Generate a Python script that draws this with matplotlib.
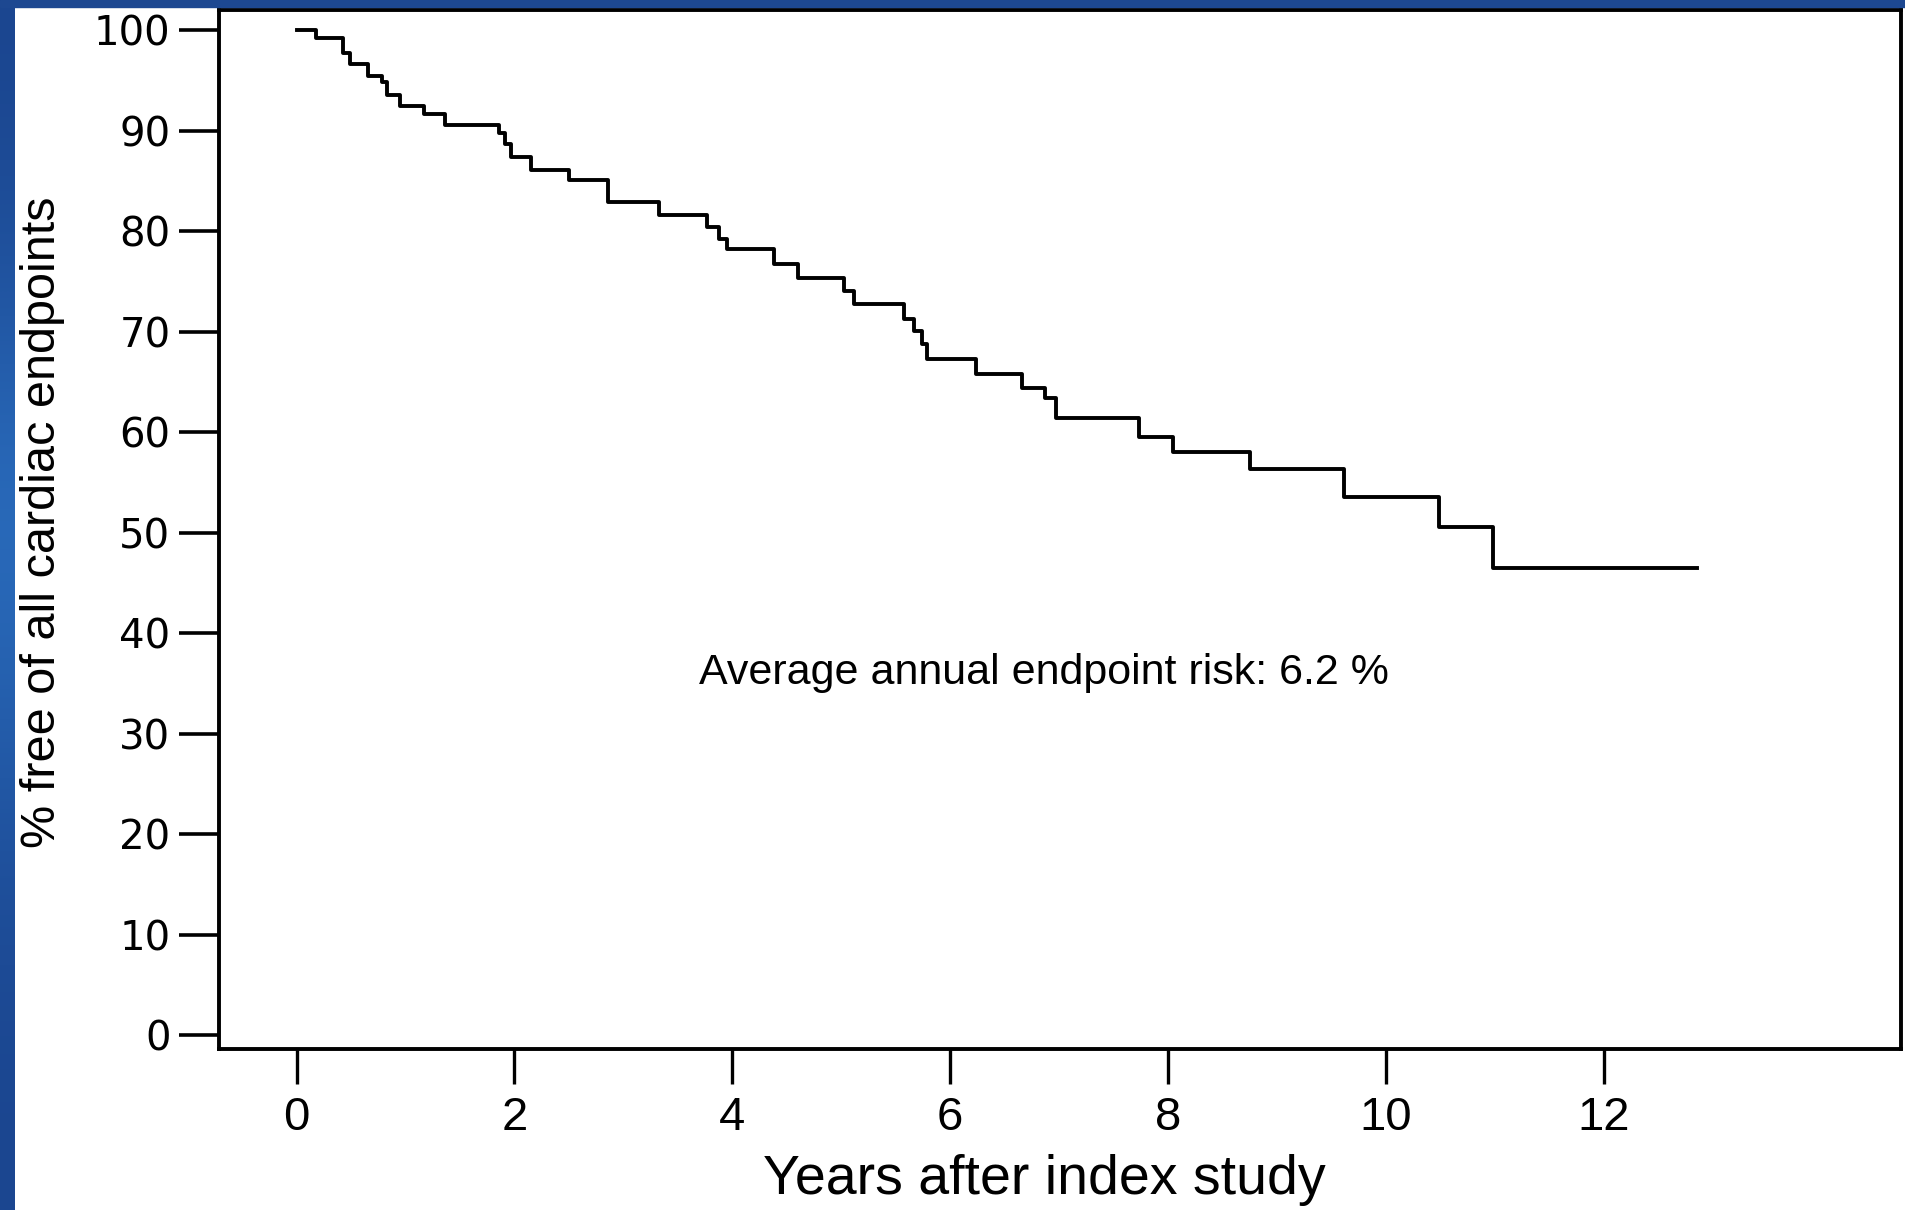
import numpy as np
import matplotlib
matplotlib.use("Agg")
import matplotlib.pyplot as plt
from matplotlib.patches import Rectangle

# Kaplan-Meier style step curve
event_years = [0, 0.18, 0.43, 0.49, 0.66, 0.78, 0.83, 0.95, 1.17, 1.36, 1.86, 1.91,
               1.97, 2.15, 2.50, 2.86, 3.33, 3.77, 3.88, 3.95, 4.38, 4.60, 5.03, 5.12,
               5.58, 5.67, 5.74, 5.79, 6.24, 6.66, 6.87, 6.97, 7.73, 8.05, 8.75, 9.62,
               10.49, 10.98]
pct_free = [100, 99.2, 97.7, 96.6, 95.4, 94.8, 93.5, 92.4, 91.7, 90.6, 89.8, 88.7,
            87.4, 86.1, 85.1, 82.9, 81.6, 80.4, 79.2, 78.2, 76.7, 75.3, 74.0, 72.7,
            71.3, 70.1, 68.8, 67.3, 65.8, 64.4, 63.4, 61.4, 59.5, 58.0, 56.3, 53.5,
            50.6, 46.5]
last_followup = 12.86

x_ticks = [0, 2, 4, 6, 8, 10, 12]
y_ticks = [0, 10, 20, 30, 40, 50, 60, 70, 80, 90, 100]

fig = plt.figure(figsize=(19.05, 12.10), dpi=100)
fig.patch.set_facecolor("white")

# blue slide frame on the left and top
W, H = 1905, 1210
strip = fig.add_axes([0, 0, 15 / W, 1])
grad = np.array([[0.0], [0.35], [1.0], [0.6], [0.15], [0.0]])
cmap = matplotlib.colors.LinearSegmentedColormap.from_list("b", ["#1b4690", "#2b6fc0"])
strip.imshow(grad, aspect="auto", cmap=cmap, interpolation="bicubic")
strip.axis("off")
fig.patches.append(Rectangle((0, 1 - 7 / H), 1, 7 / H, transform=fig.transFigure,
                             color="#1d4891", zorder=5))

ax = fig.add_axes([219 / W, 1 - 1049 / H, (1901 - 219) / W, (1049 - 10) / H])

xs = event_years + [last_followup]
ys = pct_free + [pct_free[-1]]
ax.step(xs, ys, where="post", color="black", lw=2.8)

ax.set_xlim(-0.712, 14.73)
ax.set_ylim(-1.39, 102.0)

for s in ax.spines.values():
    s.set_linewidth(2.8)
    s.set_color("black")

ax.set_xticks(x_ticks)
ax.set_yticks(y_ticks)
ax.set_xticklabels([str(v) for v in x_ticks], family="Liberation Sans", fontsize=34)
ax.set_yticklabels([str(v) for v in y_ticks], family="DejaVu Sans", fontsize=29)
ax.tick_params(axis="y", direction="out", length=29, width=2.6, pad=6)
ax.tick_params(axis="x", direction="out", length=25, width=2.4, pad=9)

ax.text(6.86, 34.9, "Average annual endpoint risk: 6.2 %", ha="center", va="baseline",
        family="Liberation Sans", fontsize=31)

fig.text(1044 / W, 1 - 1194 / H, "Years after index study", ha="center", va="baseline",
         family="Liberation Sans", fontsize=40)
fig.text(43 / W, 1 - 522 / H, "% free of all cardiac endpoints", ha="center", va="center",
         rotation=90, family="Liberation Sans", fontsize=35)

fig.savefig("out.png", dpi=100, facecolor="white")
